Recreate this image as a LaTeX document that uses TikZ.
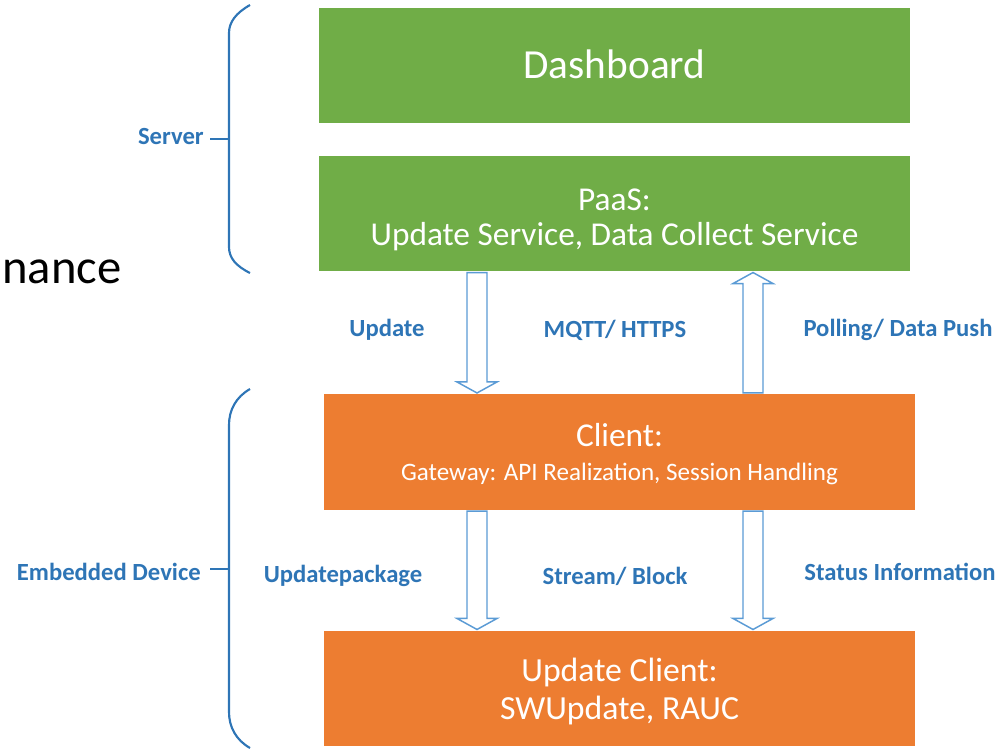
\documentclass[tikz,border=0pt]{standalone}
\usepackage{fontspec}
\setmainfont{Carlito}
\usetikzlibrary{calc}
\definecolor{boxgreen}{HTML}{70AD47}
\definecolor{boxorange}{HTML}{ED7D31}
\definecolor{labelblue}{HTML}{2E75B6}
\definecolor{braceblue}{HTML}{2E75B6}
\definecolor{arrowblue}{HTML}{5B9BD5}
\tikzset{
  layer/.style={draw=white, line width=0.8pt, minimum width=593*0.75pt, minimum height=117*0.75pt,
    inner sep=0pt},
  greenlayer/.style={layer, fill=boxgreen},
  orangelayer/.style={layer, fill=boxorange},
  layertext/.style={text=white, align=center, inner sep=0pt},
  flowlabel/.style={text=labelblue, font=\fontsize{18.5}{22}\selectfont\bfseries, inner sep=0pt},
  bracelabel/.style={flowlabel, anchor=east},
  bracepath/.style={draw=braceblue, line width=1.6pt},
  hollow/.style={draw=arrowblue, line width=1.1pt, fill=white, line join=miter},
}
% hollow block arrow from #1 (tail) to #2 (tip)
\newcommand\blockdown[2]{%
  \draw[hollow] ($(#1)+(-10,0)$) -- ($(#2)+(-10,-11)$) -- ($(#2)+(-20,-11)$) -- (#2)
    -- ($(#2)+(20,-11)$) -- ($(#2)+(10,-11)$) -- ($(#1)+(10,0)$) -- cycle;}
\newcommand\blockup[2]{%
  \draw[hollow] ($(#1)+(-10,0)$) -- ($(#2)+(-10,11)$) -- ($(#2)+(-20,11)$) -- (#2)
    -- ($(#2)+(20,11)$) -- ($(#2)+(10,11)$) -- ($(#1)+(10,0)$) -- cycle;}
\begin{document}
\begin{tikzpicture}[x=0.75pt,y=-0.75pt]
\useasboundingbox (0,0) rectangle (1000,750);

% layers
\node[greenlayer] (dash) at (614.5,65.5) {};
\node[greenlayer] (paas) at (614.5,213.5) {};
\node[orangelayer] (client) at (619.5,452) {};
\node[orangelayer] (upd) at (619.5,688.5) {};

% layer captions
\node[layertext, font=\fontsize{31}{36}\selectfont] (dashT) at ($(dash)+(0,-1)$) {Dashboard};
\node[layertext, font=\fontsize{25}{26.25}\selectfont] (paasT) at ($(paas)+(0,6)$)
  {PaaS:\\ Update Service, Data Collect Service};
\node[layertext, font=\fontsize{25}{25.5}\selectfont] (clientT) at ($(client)+(0,2)$)
  {Client:\\ \fontsize{18.8}{22}\selectfont Gateway: API Realization, Session Handling};
\node[layertext, font=\fontsize{25.3}{28.5}\selectfont] (updT) at ($(upd)+(0,2.5)$)
  {Update Client:\\ SWUpdate, RAUC};

% arrow columns
\coordinate (colL) at (477,0);
\coordinate (colR) at (753,0);

\blockdown{paas.south -| colL}{client.north -| colL}
\blockup{client.north -| colR}{paas.south -| colR}
\blockdown{client.south -| colL}{upd.north -| colL}
\blockdown{client.south -| colR}{upd.north -| colR}

% arrow labels
\node[flowlabel] (l1) at (387,330) {Update};
\node[flowlabel] (l2) at (615,330) {MQTT/ HTTPS};
\node[flowlabel] (l3) at (898,330) {Polling/ Data Push};
\node[flowlabel] (l4) at (343,576) {Updatepackage};
\node[flowlabel] (l5) at (615,576) {Stream/ Block};
\node[flowlabel] (l6) at (900,572) {Status Information};

% braces
\draw[bracepath] (250,5) .. controls (236,13) and (229,22) .. (229,33) -- (229,247)
  .. controls (229,258) and (236,266) .. (250,273);
\coordinate (srvtick) at (210,139);
\draw[bracepath] (srvtick) -- (229,139);
\node[bracelabel] (srv) at ($(srvtick)+(-6,-3)$) {Server};

\draw[bracepath] (250,389) .. controls (236,397) and (229,410) .. (229,425) -- (229,712)
  .. controls (229,727) and (236,740) .. (250,748);
\coordinate (embtick) at (210,569);
\draw[bracepath] (embtick) -- (229,569);
\node[bracelabel] (emb) at ($(embtick)+(-9,3)$) {Embedded Device};

% cut-off heading on the left
\node[anchor=west, inner sep=0pt, font=\fontsize{36.5}{40}\selectfont] (cut) at (2,272) {nance};
\end{tikzpicture}
\end{document}
